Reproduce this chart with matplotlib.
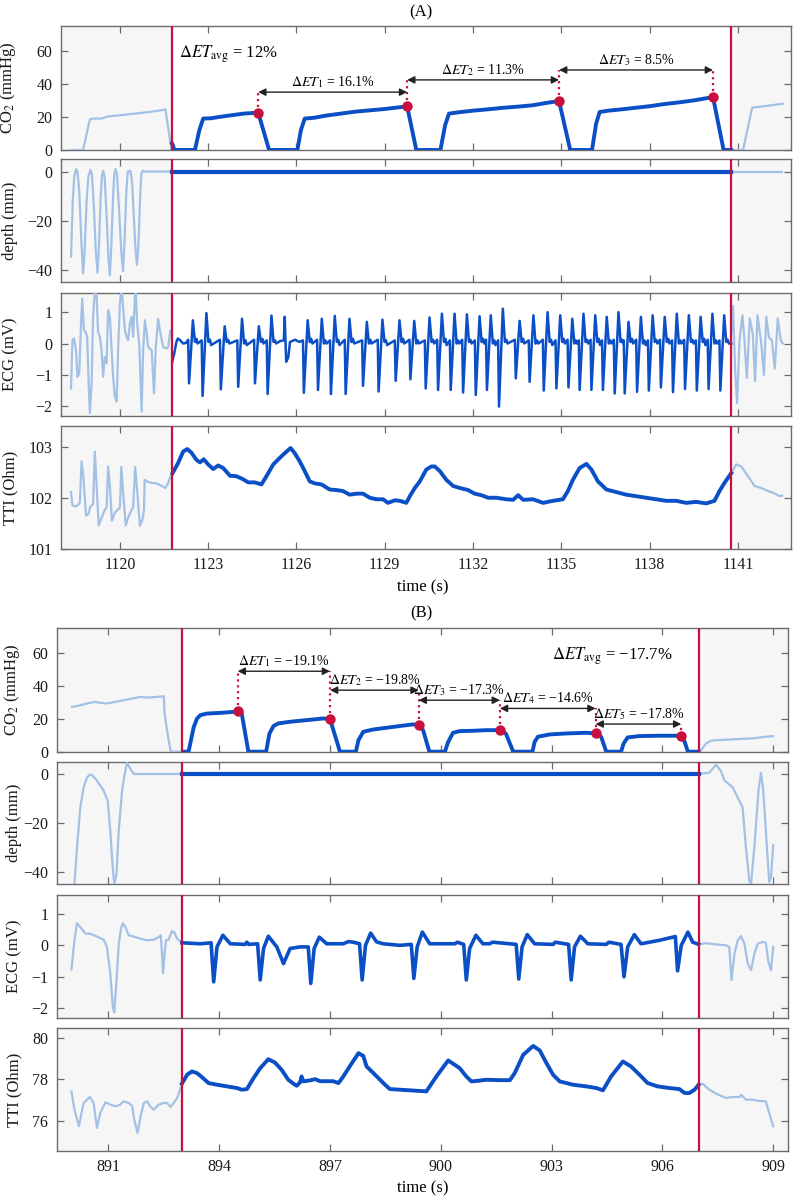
import matplotlib.pyplot as plt

plt.rcParams['font.family'] = ['Liberation Serif', 'DejaVu Serif']
plt.rcParams['mathtext.fontset'] = 'stix'

DARK = '#0b4fc6'
LIGHT = '#a3c1e5'
RED = '#c8103e'
SHADE = '#f6f6f6'
FRAME = '#6b6b6b'

# ------------------------------------------------------------------ panel A data
a_xlim = (1118.0, 1142.8)
a_lo, a_hi = 1121.77, 1140.77
a_xticks = [1120, 1123, 1126, 1129, 1132, 1135, 1138, 1141]

co2_a_pre_t = [1118.35, 1118.75, 1118.98, 1119.10, 1119.38, 1119.60, 1120.00, 1120.50, 1121.00, 1121.50, 1121.55, 1121.75]
co2_a_pre_v = [0, 0, 18.5, 19.0, 19.0, 20.3, 21.0, 22.0, 23.0, 24.3, 24.5, 0]
co2_a_t = [1121.77, 1121.80, 1121.85, 1122.55, 1122.70, 1122.83, 1123.10, 1123.30, 1123.70, 1124.20, 1124.70,
           1125.07, 1126.03, 1126.15, 1126.28, 1126.60, 1127.00, 1127.50, 1128.00, 1128.50, 1129.00, 1129.76,
           1130.07, 1130.89, 1131.05, 1131.18, 1131.50, 1132.00, 1132.50, 1133.00, 1133.50, 1134.00, 1134.50, 1134.92,
           1135.30, 1136.04, 1136.18, 1136.30, 1136.60, 1137.00, 1137.50, 1138.00, 1138.50, 1139.00, 1139.50, 1140.15,
           1140.51, 1140.77]
co2_a_v = [4, 3, 0, 0, 12, 19, 19.2, 19.8, 20.8, 22.0, 22.6,
           0, 0, 12, 19, 19.5, 20.8, 22.0, 23.2, 24.0, 24.8, 26.4,
           0, 0, 15, 22.0, 22.8, 23.8, 24.6, 25.5, 26.2, 27.0, 28.5, 29.6,
           0, 0, 16, 23.0, 23.8, 24.5, 25.5, 26.5, 27.8, 28.8, 30.0, 32.0,
           0, 0]
co2_a_post_t = [1140.77, 1141.17, 1141.48, 1141.80, 1142.20, 1142.52]
co2_a_post_v = [0, 0, 25.6, 26.3, 27.2, 28.0]
et_a_t = [1124.70, 1129.76, 1134.92, 1140.15]
et_a_v = [22.6, 26.4, 29.6, 32.0]
arrow_a_y = [35.0, 42.4, 48.4]
arrow_a_txt = ['16.1%', '11.3%', '8.5%']
avg_a_txt = '12%'

depth_a_pre_t = [1118.34, 1118.40, 1118.45, 1118.51, 1118.56, 1118.62, 1118.69, 1118.75, 1118.80, 1118.87, 1118.93,
                 1119.00, 1119.05, 1119.12, 1119.18, 1119.24, 1119.29, 1119.35, 1119.39, 1119.43, 1119.48, 1119.55,
                 1119.61, 1119.66, 1119.71, 1119.77, 1119.81, 1119.85, 1119.90, 1119.97, 1120.05, 1120.11, 1120.16,
                 1120.22, 1120.27, 1120.36, 1120.42, 1120.48, 1120.54, 1120.58, 1120.63, 1120.69, 1120.73, 1120.77,
                 1120.85, 1121.77]
depth_a_pre_v = [-34.6, -12, -2, 1.0, 0, -8, -28, -41.5, -33, -12, -2,
                 0.7, -1, -15, -32, -41.2, -30, -10, -2, 0.3, -2, -18,
                 -35, -42.2, -30, -10, -1, 1.0, -1, -15, -33, -40.6, -28,
                 -8, 0, 0.3, -5, -20, -33, -38, -30, -10, -1, 0.3,
                 0, 0]
depth_a_t = [1121.77, 1140.77]
depth_a_v = [0, 0]
depth_a_post_t = [1140.77, 1142.50]
depth_a_post_v = [0, 0]

ecg_a_pre_t = [1118.34, 1118.39, 1118.44, 1118.51, 1118.56, 1118.62, 1118.68, 1118.72, 1118.78, 1118.83,
               1118.89, 1118.94, 1118.98, 1119.04, 1119.09, 1119.15, 1119.21, 1119.26, 1119.32, 1119.38,
               1119.43, 1119.49, 1119.55, 1119.60, 1119.66, 1119.72, 1119.77, 1119.83, 1119.89, 1119.94,
               1120.00, 1120.06, 1120.11, 1120.17, 1120.23, 1120.28, 1120.34, 1120.40, 1120.45, 1120.51,
               1120.54, 1120.59, 1120.66, 1120.74, 1120.79, 1120.85, 1120.91, 1120.96, 1121.08, 1121.16,
               1121.22, 1121.30, 1121.36, 1121.47, 1121.59, 1121.64, 1121.72, 1121.77]
ecg_a_pre_v = [-1.43, 0.11, 0.16, -0.21, -1.06, -0.95, 0.63, 1.43, 0.42, 0.37,
               0.21, -1.27, -2.22, -1.27, 0.85, 1.69, 1.50, 0.37, 0.21, -0.21,
               -1.06, -0.42, -0.63, 1.06, 0.85, -0.21, -1.06, -1.69, -1.85, -0.21,
               1.27, 1.69, 1.16, 0.42, 0.21, 0.11, 0.63, 0.85, 0.21, 1.48,
               1.64, 0.63, -0.05, -2.17, -0.21, 0.74, 0.32, -0.11, -0.21, -1.59,
               -0.11, 0.79, 0.42, -0.11, -0.16, -0.11, 0.42, 0.27]
ecg_a_t = [
    1121.78, 1121.85, 1121.92, 1121.97, 1122.05, 1122.15, 1122.25,
    1122.32, 1122.35, 1122.48, 1122.55, 1122.60, 1122.64,
    1122.78, 1122.81, 1122.94, 1123.01, 1123.06, 1123.10,
    1123.40, 1123.43, 1123.56, 1123.63, 1123.68, 1123.72,
    1123.99, 1124.02, 1124.15, 1124.22, 1124.27, 1124.31,
    1124.56, 1124.59, 1124.72, 1124.79, 1124.84, 1124.88,
    1124.99, 1125.02, 1125.15, 1125.22, 1125.27, 1125.31,
    1125.45, 1125.57, 1125.60, 1125.65, 1125.72, 1125.78, 1125.95, 1126.10,
    1126.22, 1126.25, 1126.38, 1126.45, 1126.50, 1126.54,
    1126.70, 1126.73, 1126.86, 1126.93, 1126.98, 1127.02,
    1127.14, 1127.17, 1127.30, 1127.37, 1127.42, 1127.46,
    1127.64, 1127.67, 1127.80, 1127.87, 1127.92, 1127.96,
    1128.23, 1128.26, 1128.39, 1128.46, 1128.51, 1128.55,
    1128.76, 1128.79, 1128.92, 1128.99, 1129.04, 1129.08,
    1129.34, 1129.37, 1129.50, 1129.57, 1129.62, 1129.66,
    1129.84, 1129.87, 1130.00, 1130.07, 1130.12, 1130.16,
    1130.36, 1130.39, 1130.52, 1130.59, 1130.64, 1130.68,
    1130.78, 1130.81, 1130.94, 1131.01, 1131.06, 1131.10,
    1131.21, 1131.24, 1131.37, 1131.44, 1131.49, 1131.53,
    1131.63, 1131.66, 1131.79, 1131.86, 1131.91, 1131.95,
    1132.06, 1132.09, 1132.22, 1132.29, 1132.34, 1132.38,
    1132.44, 1132.47, 1132.60, 1132.67, 1132.72, 1132.76,
    1132.85, 1132.88, 1133.01, 1133.08, 1133.13, 1133.17,
    1133.42, 1133.45, 1133.58, 1133.65, 1133.70, 1133.74,
    1133.89, 1133.92, 1134.05, 1134.12, 1134.17, 1134.21,
    1134.37, 1134.40, 1134.53, 1134.60, 1134.65, 1134.69,
    1134.80, 1134.83, 1134.96, 1135.03, 1135.08, 1135.12,
    1135.21, 1135.24, 1135.37, 1135.44, 1135.49, 1135.53,
    1135.59, 1135.62, 1135.75, 1135.82, 1135.87, 1135.91,
    1135.99, 1136.02, 1136.15, 1136.22, 1136.27, 1136.31,
    1136.38, 1136.41, 1136.54, 1136.61, 1136.66, 1136.70,
    1136.78, 1136.81, 1136.94, 1137.01, 1137.06, 1137.10,
    1137.12, 1137.15, 1137.28, 1137.35, 1137.40, 1137.44,
    1137.54, 1137.57, 1137.70, 1137.77, 1137.82, 1137.86,
    1137.94, 1137.97, 1138.10, 1138.17, 1138.22, 1138.26,
    1138.35, 1138.38, 1138.51, 1138.58, 1138.63, 1138.67,
    1138.76, 1138.79, 1138.92, 1138.99, 1139.04, 1139.08,
    1139.17, 1139.20, 1139.33, 1139.40, 1139.45, 1139.49,
    1139.57, 1139.60, 1139.73, 1139.80, 1139.85, 1139.89,
    1139.97, 1140.00, 1140.13, 1140.20, 1140.25, 1140.29,
    1140.37, 1140.40, 1140.53, 1140.60, 1140.65, 1140.69,
    1140.77]
ecg_a_v = [
    -0.58, -0.30, 0.05, 0.16, 0.10, 0.00, 0.02,
    0.12, -1.27, 0.74, 0.05, 0.15, 0.00,
    0.10, -1.67, 0.97, 0.05, 0.12, -0.05,
    0.12, -1.46, 0.55, 0.05, 0.12, 0.00,
    0.10, -1.38, 0.79, 0.00, 0.10, -0.05,
    0.12, -1.27, 0.55, 0.05, 0.15, 0.00,
    0.10, -1.61, 0.89, 0.05, 0.10, 0.00,
    0.08, 0.10, 0.85, -0.58, -0.45, 0.05, 0.12, 0.05,
    0.10, -1.57, 0.74, 0.05, 0.15, 0.00,
    0.12, -1.48, 0.79, 0.00, 0.10, 0.00,
    0.10, -1.61, 0.88, 0.05, 0.12, -0.05,
    0.12, -1.61, 0.79, 0.05, 0.15, 0.00,
    0.10, -1.35, 0.69, 0.00, 0.12, 0.00,
    0.12, -1.53, 0.76, 0.05, 0.10, -0.05,
    0.10, -1.19, 0.74, 0.05, 0.15, 0.00,
    0.12, -1.14, 0.72, 0.00, 0.10, 0.00,
    0.10, -1.43, 0.83, 0.05, 0.12, 0.00,
    0.12, -1.48, 0.95, 0.05, 0.15, -0.05,
    0.10, -1.48, 0.95, 0.00, 0.10, 0.00,
    0.12, -1.56, 0.93, 0.05, 0.12, 0.00,
    0.10, -1.64, 0.87, 0.05, 0.15, 0.00,
    0.12, -1.48, 0.90, 0.00, 0.10, -0.05,
    0.10, -2.01, 1.11, 0.05, 0.12, 0.00,
    0.12, -1.11, 0.72, 0.05, 0.15, 0.00,
    0.10, -1.22, 0.90, 0.00, 0.10, 0.00,
    0.12, -1.50, 1.00, 0.05, 0.12, -0.05,
    0.10, -1.43, 0.90, 0.05, 0.15, 0.00,
    0.12, -1.40, 0.79, 0.00, 0.10, 0.00,
    0.10, -1.48, 0.95, 0.05, 0.12, 0.00,
    0.12, -1.48, 0.90, 0.05, 0.15, -0.05,
    0.10, -1.48, 0.85, 0.00, 0.10, 0.00,
    0.12, -1.59, 1.00, 0.05, 0.12, 0.00,
    0.10, -1.59, 0.69, 0.05, 0.15, 0.00,
    0.12, -1.54, 0.85, 0.00, 0.10, -0.05,
    0.10, -1.50, 0.90, 0.05, 0.12, 0.00,
    0.12, -1.40, 0.85, 0.05, 0.15, 0.00,
    0.10, -1.55, 0.95, 0.00, 0.10, 0.00,
    0.12, -1.45, 0.90, 0.05, 0.12, 0.00,
    0.10, -1.50, 0.85, 0.05, 0.15, -0.05,
    0.12, -1.45, 0.95, 0.00, 0.10, 0.00,
    0.10, -1.50, 0.90, 0.05, 0.12, 0.00,
    0.00]
ecg_a_post_t = [1140.77, 1140.83, 1140.90, 1140.97, 1141.05, 1141.15, 1141.22, 1141.30, 1141.40, 1141.50, 1141.58,
                1141.66, 1141.78, 1141.88, 1141.96, 1142.05, 1142.15, 1142.25, 1142.35, 1142.45, 1142.52]
ecg_a_post_v = [0.3, 1.2, -0.8, -1.9, 0.1, 0.9, 0.1, -1.1, 0.8, 0.3, -1.2,
                0.9, 0.1, -1.0, 0.85, 0.2, 0.1, -0.8, 0.8, 0.1, 0.0]

tti_a_pre_t = [1118.34, 1118.39, 1118.51, 1118.59, 1118.64, 1118.70, 1118.76, 1118.85, 1118.93, 1119.00,
               1119.09, 1119.15, 1119.21, 1119.28, 1119.38, 1119.49, 1119.55, 1119.60, 1119.66, 1119.73,
               1119.83, 1119.94, 1120.00, 1120.05, 1120.11, 1120.20, 1120.28, 1120.40, 1120.45, 1120.52,
               1120.59, 1120.68, 1120.77, 1120.82, 1120.84, 1120.91, 1121.08, 1121.25, 1121.42, 1121.55,
               1121.64, 1121.77]
tti_a_pre_v = [102.11, 101.85, 101.83, 101.87, 101.90, 102.71, 102.42, 101.65, 101.68, 101.83,
               101.87, 102.90, 102.23, 101.46, 101.61, 101.77, 101.81, 102.61, 102.23, 101.55,
               101.71, 101.77, 101.81, 102.60, 102.10, 101.46, 101.61, 101.77, 101.81, 102.60,
               102.13, 101.45, 101.58, 101.77, 102.35, 102.32, 102.29, 102.28, 102.23, 102.19,
               102.29, 102.48]
tti_a_t = [1121.79, 1121.98, 1122.15, 1122.29, 1122.43, 1122.60, 1122.72, 1122.85, 1123.00, 1123.17,
           1123.34, 1123.51, 1123.74, 1123.96, 1124.19, 1124.36, 1124.58, 1124.81, 1124.98, 1125.21,
           1125.49, 1125.66, 1125.80, 1125.94, 1126.11, 1126.28, 1126.45, 1126.62, 1126.85, 1127.13,
           1127.36, 1127.58, 1127.81, 1128.04, 1128.26, 1128.49, 1128.72, 1128.94, 1129.11, 1129.34,
           1129.51, 1129.73, 1129.85, 1130.02, 1130.19, 1130.41, 1130.58, 1130.70, 1130.87, 1131.09,
           1131.32, 1131.55, 1131.83, 1132.05, 1132.28, 1132.51, 1132.79, 1133.13, 1133.36, 1133.53,
           1133.70, 1134.04, 1134.38, 1134.71, 1135.05, 1135.22, 1135.39, 1135.62, 1135.85, 1136.02,
           1136.24, 1136.53, 1136.87, 1137.20, 1137.54, 1137.88, 1138.22, 1138.56, 1138.90, 1139.24,
           1139.58, 1139.92, 1140.20, 1140.37, 1140.54, 1140.77]
tti_a_v = [102.48, 102.68, 102.90, 102.95, 102.88, 102.74, 102.69, 102.75, 102.65, 102.56,
           102.63, 102.58, 102.43, 102.42, 102.36, 102.30, 102.30, 102.26, 102.42, 102.65,
           102.81, 102.90, 102.97, 102.87, 102.71, 102.52, 102.32, 102.28, 102.26, 102.16,
           102.15, 102.13, 102.06, 102.08, 102.08, 102.00, 101.97, 101.97, 101.90, 101.95,
           101.94, 101.90, 102.03, 102.19, 102.32, 102.55, 102.61, 102.61, 102.52, 102.35,
           102.23, 102.19, 102.15, 102.08, 102.05, 102.00, 102.00, 101.97, 101.96, 102.05,
           101.96, 101.97, 101.90, 101.94, 101.97, 102.13, 102.35, 102.58, 102.66, 102.55,
           102.32, 102.16, 102.11, 102.06, 102.03, 102.00, 101.97, 101.94, 101.94, 101.90,
           101.92, 101.89, 101.94, 102.13, 102.29, 102.48]
tti_a_post_t = [1140.77, 1140.94, 1141.11, 1141.34, 1141.56, 1141.79, 1142.02, 1142.19, 1142.41, 1142.50]
tti_a_post_v = [102.48, 102.65, 102.61, 102.42, 102.23, 102.19, 102.13, 102.10, 102.03, 102.04]

# ------------------------------------------------------------------ panel B data
b_xlim = (889.6, 909.4)
b_lo, b_hi = 893.0, 907.0
b_xticks = [891, 894, 897, 900, 903, 906, 909]

co2_b_pre_t = [890.02, 890.15, 890.42, 890.65, 890.78, 890.96, 891.19, 891.51, 891.87, 892.05, 892.32, 892.50,
               892.52, 892.63, 892.69, 892.99]
co2_b_pre_v = [27.3, 27.7, 29.3, 30.3, 29.7, 29.3, 30.3, 31.7, 33.3, 32.9, 33.3, 33.7, 23.2, 7.0, 0, 0]
co2_b_t = [893.02, 893.17, 893.31, 893.40, 893.49, 893.67, 894.03, 894.39, 894.50, 894.61, 894.79,
           895.27, 895.36, 895.47, 895.60, 895.92, 896.37, 896.82, 897.00, 897.27,
           897.70, 897.77, 897.90, 898.17, 898.89, 899.25, 899.40, 899.52, 899.69,
           900.11, 900.20, 900.33, 900.51, 900.87, 901.23, 901.60, 901.76, 901.96,
           902.48, 902.54, 902.63, 902.95, 903.40, 903.94, 904.19, 904.34, 904.48,
           904.88, 904.95, 905.06, 905.38, 905.92, 906.46, 906.51, 906.60, 906.69, 906.98]
co2_b_v = [0, 0, 15.0, 20.2, 22.2, 23.2, 23.6, 24.2, 24.6, 23.2, 0,
           0, 11.0, 15.6, 17.2, 18.2, 19.2, 20.2, 19.8, 0,
           0, 7.0, 12.1, 13.5, 15.6, 16.6, 16.0, 13.1, 0,
           0, 6.0, 11.5, 12.5, 12.7, 13.1, 13.1, 11.1, 0,
           0, 6.0, 9.1, 10.5, 11.1, 11.5, 11.1, 9.1, 0,
           0, 5.0, 8.7, 9.5, 9.7, 9.7, 9.5, 6.1, 0, 0]
co2_b_post_t = [906.98, 907.05, 907.18, 907.32, 907.54, 907.90, 908.44, 908.80, 909.00]
co2_b_post_v = [0, 1.0, 5.0, 6.7, 7.1, 7.5, 8.1, 9.1, 9.5]
et_b_t = [894.50, 897.00, 899.40, 901.60, 904.19, 906.51]
et_b_v = [24.6, 19.8, 16.0, 13.1, 11.1, 9.5]
arrow_b_y = [48.9, 37.4, 31.3, 26.3, 16.8]
arrow_b_txt = ['\u221219.1%', '\u221219.8%', '\u221217.3%', '\u221214.6%', '\u221217.8%']
avg_b_txt = '\u221217.7%'

depth_b_pre_t = [890.00, 890.08, 890.15, 890.24, 890.33, 890.42, 890.49, 890.56, 890.62, 890.69, 890.87, 890.98,
                 891.05, 891.12, 891.16, 891.22, 891.28, 891.37, 891.43, 891.50, 891.60, 891.69, 892.99]
depth_b_pre_v = [-52, -45, -29.8, -13.6, -5.4, -1.5, -0.3, -0.5, -1.5, -2.7, -6.8, -10.9,
                 -23, -39, -45, -40.6, -23, -6.8, -1, 4.5, 2, 0, 0]
depth_b_t = [893.0, 907.0]
depth_b_v = [0, 0]
depth_b_post_t = [906.98, 907.27, 907.45, 907.59, 907.68, 907.90, 908.08, 908.17, 908.26, 908.35, 908.40, 908.49,
                  908.60, 908.67, 908.73, 908.80, 908.89, 908.94, 909.00]
depth_b_post_v = [0, 0.5, 3.8, 1.0, -2.7, -5.4, -10.9, -13.6, -29.8, -43.4, -44.8, -29.8,
                  -6.8, 0.5, -6.8, -23, -44, -42, -29]

ecg_b_pre_t = [890.00, 890.08, 890.15, 890.24, 890.38, 890.51, 890.69, 890.87, 890.96, 891.05,
               891.12, 891.16, 891.22, 891.28, 891.34, 891.39, 891.46, 891.55, 891.69, 891.87,
               892.05, 892.23, 892.36, 892.42, 892.45, 892.48, 892.52, 892.56, 892.63, 892.72,
               892.78, 892.86, 892.99]
ecg_b_pre_v = [-0.77, 0.16, 0.70, 0.58, 0.37, 0.37, 0.28, 0.18, -0.05, -0.89,
               -1.95, -2.13, -1.10, 0.05, 0.53, 0.70, 0.58, 0.32, 0.28, 0.21,
               0.16, 0.18, 0.26, 0.32, -0.26, -0.89, -0.26, 0.16, 0.18, 0.45,
               0.42, 0.21, 0.08]
ecg_b_t = [892.99, 893.49, 893.78, 893.85, 893.94, 894.10, 894.30, 894.70, 894.75, 894.80,
           895.04, 895.11, 895.20, 895.33, 895.56, 895.74, 895.92, 896.19, 896.41, 896.48,
           896.57, 896.71, 896.91, 897.36, 897.50, 897.63, 897.80, 897.87, 897.96, 898.10,
           898.26, 898.44, 898.89, 899.20, 899.27, 899.36, 899.50, 899.70, 900.38, 900.45,
           900.62, 900.69, 900.78, 900.95, 901.14, 901.32, 901.40, 902.04, 902.11, 902.20,
           902.34, 902.54, 903.04, 903.10, 903.46, 903.53, 903.62, 903.78, 903.98, 904.48,
           904.55, 904.88, 904.96, 905.06, 905.24, 905.42, 905.92, 906.28, 906.35, 906.41,
           906.51, 906.69, 906.82, 906.98]
ecg_b_v = [0.08, 0.05, 0.08, -1.16, -0.05, 0.32, 0.05, 0.03, 0.10, 0.03,
           0.05, -1.10, -0.10, 0.29, -0.05, -0.58, -0.10, -0.05, -0.05, -1.21,
           -0.10, 0.26, 0.05, 0.05, 0.12, 0.10, 0.05, -1.10, 0.00, 0.39,
           0.11, 0.05, 0.00, 0.03, -1.05, -0.05, 0.42, 0.05, 0.05, 0.10,
           0.03, -1.10, -0.10, 0.32, 0.05, 0.05, 0.10, 0.03, -1.07, -0.05,
           0.34, 0.05, 0.03, 0.10, 0.03, -1.10, -0.05, 0.29, 0.05, 0.03,
           0.10, 0.03, -1.00, -0.05, 0.34, 0.05, 0.16, 0.26, 0.28, -0.81,
           0.00, 0.42, 0.10, 0.03]
ecg_b_post_t = [906.98, 907.18, 907.45, 907.72, 907.81, 907.87, 907.95, 908.04, 908.13, 908.22,
                908.31, 908.40, 908.49, 908.58, 908.71, 908.80, 908.87, 908.94, 909.00]
ecg_b_post_v = [0.03, 0.07, 0.03, 0.00, -0.05, -1.10, -0.26, 0.16, 0.29, 0.05,
                -0.58, -0.79, -0.26, 0.05, 0.11, 0.08, -0.53, -0.79, -0.05]

tti_b_pre_t = [890.00, 890.08, 890.20, 890.29, 890.33, 890.50, 890.60, 890.69, 890.78, 890.92,
               891.05, 891.19, 891.32, 891.41, 891.55, 891.64, 891.70, 891.79, 891.87, 891.96,
               892.05, 892.14, 892.23, 892.36, 892.50, 892.59, 892.68, 892.77, 892.86, 892.99]
tti_b_pre_v = [77.41, 76.53, 75.73, 76.53, 76.85, 77.14, 76.85, 75.65, 76.37, 76.88,
               76.77, 76.69, 76.77, 76.93, 76.85, 76.72, 76.05, 75.41, 76.21, 76.85,
               76.93, 76.66, 76.53, 76.77, 76.85, 76.85, 76.66, 76.85, 77.09, 77.73]
tti_b_t = [892.99, 893.13, 893.26, 893.40, 893.53, 893.71, 893.94, 894.21, 894.48, 894.61,
           894.75, 894.93, 895.11, 895.33, 895.51, 895.69, 895.87, 896.01, 896.10, 896.19,
           896.23, 896.28, 896.46, 896.60, 896.73, 896.91, 897.09, 897.23, 897.36, 897.59,
           897.77, 897.90, 897.99, 898.13, 898.31, 898.49, 898.62, 898.89, 899.16, 899.61,
           899.88, 900.20, 900.51, 900.69, 900.83, 901.01, 901.23, 901.60, 901.87, 902.00,
           902.23, 902.50, 902.68, 902.86, 903.04, 903.22, 903.58, 903.94, 904.21, 904.39,
           904.61, 904.93, 905.15, 905.38, 905.60, 905.87, 906.19, 906.46, 906.60, 906.73,
           906.87, 906.98]
tti_b_v = [77.78, 78.21, 78.37, 78.29, 78.10, 77.81, 77.73, 77.65, 77.57, 77.49,
           77.52, 78.05, 78.53, 78.96, 78.80, 78.45, 77.97, 77.78, 77.68, 77.85,
           78.13, 77.89, 77.94, 78.00, 77.90, 77.90, 77.90, 77.81, 78.13, 78.77,
           79.25, 79.12, 78.61, 78.37, 78.05, 77.73, 77.52, 77.49, 77.46, 77.41,
           78.13, 78.90, 78.53, 78.13, 77.89, 77.92, 77.97, 77.95, 77.95, 78.29,
           79.17, 79.60, 79.38, 78.77, 78.21, 77.89, 77.73, 77.65, 77.57, 77.46,
           78.13, 78.85, 78.61, 78.21, 77.81, 77.65, 77.57, 77.52, 77.33, 77.33,
           77.49, 77.73]
tti_b_post_t = [906.98, 907.09, 907.27, 907.45, 907.72, 907.90, 908.09, 908.13, 908.26, 908.44, 908.58,
                908.80, 908.89, 909.00]
tti_b_post_v = [77.73, 77.78, 77.49, 77.30, 77.09, 77.14, 77.14, 77.25, 77.01, 77.01, 76.96,
                76.93, 76.37, 75.73]

# ------------------------------------------------------------------ drawing
W, H = 796, 1199
fig = plt.figure(figsize=(W / 100, H / 100), dpi=100)


def px_axes(left, top, right, bottom):
    return fig.add_axes([left / W, 1 - bottom / H, (right - left) / W, (bottom - top) / H])


def style(ax, xlim, ylim, xticks, yticks, ylabel, lo, hi, lab_x, show_x):
    ax.set_xlim(xlim)
    ax.set_ylim(ylim)
    ax.axvspan(xlim[0], lo, color=SHADE, lw=0, zorder=0)
    ax.axvspan(hi, xlim[1], color=SHADE, lw=0, zorder=0)
    ax.axvline(lo, color=RED, lw=1.6, zorder=5)
    ax.axvline(hi, color=RED, lw=1.6, zorder=5)
    ax.set_xticks(xticks)
    ax.set_yticks(yticks)
    ax.tick_params(direction='in', length=5, width=0.9, color=FRAME, top=True, right=True,
                   labelsize=11.5, labelcolor='#1a1a1a', pad=6)
    ax.tick_params(labelbottom=show_x)
    for s in ax.spines.values():
        s.set_color(FRAME)
        s.set_linewidth(1.0)
    ax.set_ylabel(ylabel, fontsize=12, color='#1a1a1a')
    ax.yaxis.set_label_coords(lab_x, 0.5)


def traces(ax, pre, main, post, lw_main=2.5):
    ax.plot(pre[0], pre[1], color=LIGHT, lw=1.6, zorder=3)
    ax.plot(post[0], post[1], color=LIGHT, lw=1.6, zorder=3)
    ax.plot(main[0], main[1], color=DARK, lw=lw_main, zorder=4, solid_joinstyle='round')


def end_tidal(ax, et_t, et_v, arr_y, arr_txt, avg_txt, avg_xy):
    for i in range(len(arr_y)):
        x1, x2, y = et_t[i], et_t[i + 1], arr_y[i]
        ax.annotate('', xy=(x2, y), xytext=(x1, y),
                    arrowprops=dict(arrowstyle='<|-|>', color='#222222', lw=1.0,
                                    mutation_scale=11, shrinkA=0, shrinkB=0), zorder=6)
        ax.text((x1 + x2) / 2, y + 1.2, r'$\Delta ET_{%d}$ = %s' % (i + 1, arr_txt[i]),
                ha='center', va='bottom', fontsize=10, zorder=7)
    tops = [arr_y[0]] + [max(arr_y[i - 1], arr_y[i]) if i < len(arr_y) else arr_y[-1] for i in range(1, len(et_t))]
    for i in range(len(et_t)):
        ax.plot([et_t[i], et_t[i]], [et_v[i], tops[i]], color=RED, ls=':', lw=1.6, zorder=5)
    ax.plot(et_t, et_v, 'o', color=RED, ms=7.5, zorder=8, mec='none')
    ax.text(avg_xy[0], avg_xy[1], r'$\Delta ET_{\rm avg}$ = ' + avg_txt, ha='left', va='center',
            fontsize=12, zorder=7)


# panel A
a_rows = [(26, 150), (159.3, 282), (293.3, 415.7), (426, 549)]
axA = [px_axes(61, t, 791, b) for t, b in a_rows]
style(axA[0], a_xlim, (0, 75), a_xticks, [0, 20, 40, 60], r'CO$_2$ (mmHg)', a_lo, a_hi, -0.059, False)
style(axA[1], a_xlim, (-45, 5), a_xticks, [-40, -20, 0], 'depth (mm)', a_lo, a_hi, -0.059, False)
style(axA[2], a_xlim, (-2.3, 1.6), a_xticks, [-2, -1, 0, 1], 'ECG (mV)', a_lo, a_hi, -0.059, False)
style(axA[3], a_xlim, (101, 103.4), a_xticks, [101, 102, 103], 'TTI (Ohm)', a_lo, a_hi, -0.059, True)
traces(axA[0], (co2_a_pre_t, co2_a_pre_v), (co2_a_t, co2_a_v), (co2_a_post_t, co2_a_post_v), 2.8)
traces(axA[1], (depth_a_pre_t, depth_a_pre_v), (depth_a_t, depth_a_v), (depth_a_post_t, depth_a_post_v), 3.0)
traces(axA[2], (ecg_a_pre_t, ecg_a_pre_v), (ecg_a_t, ecg_a_v), (ecg_a_post_t, ecg_a_post_v), 1.8)
traces(axA[3], (tti_a_pre_t, tti_a_pre_v), (tti_a_t, tti_a_v), (tti_a_post_t, tti_a_post_v), 2.8)
end_tidal(axA[0], et_a_t, et_a_v, arrow_a_y, arrow_a_txt, avg_a_txt, (1122.0, 58))

# panel B
b_rows = [(628.3, 751.7), (761.7, 884.3), (895, 1017.7), (1028.3, 1150.7)]
axB = [px_axes(56.7, t, 788, b) for t, b in b_rows]
style(axB[0], b_xlim, (0, 75), b_xticks, [0, 20, 40, 60], r'CO$_2$ (mmHg)', b_lo, b_hi, -0.047, False)
style(axB[1], b_xlim, (-45, 5), b_xticks, [-40, -20, 0], 'depth (mm)', b_lo, b_hi, -0.047, False)
style(axB[2], b_xlim, (-2.3, 1.6), b_xticks, [-2, -1, 0, 1], 'ECG (mV)', b_lo, b_hi, -0.047, False)
style(axB[3], b_xlim, (74.55, 80.45), b_xticks, [76, 78, 80], 'TTI (Ohm)', b_lo, b_hi, -0.047, True)
traces(axB[0], (co2_b_pre_t, co2_b_pre_v), (co2_b_t, co2_b_v), (co2_b_post_t, co2_b_post_v), 2.8)
traces(axB[1], (depth_b_pre_t, depth_b_pre_v), (depth_b_t, depth_b_v), (depth_b_post_t, depth_b_post_v), 3.0)
traces(axB[2], (ecg_b_pre_t, ecg_b_pre_v), (ecg_b_t, ecg_b_v), (ecg_b_post_t, ecg_b_post_v), 2.6)
traces(axB[3], (tti_b_pre_t, tti_b_pre_v), (tti_b_t, tti_b_v), (tti_b_post_t, tti_b_post_v), 2.8)
end_tidal(axB[0], et_b_t, et_b_v, arrow_b_y, arrow_b_txt, avg_b_txt, (903.0, 58))

fig.text(421 / W, 1 - 12 / H, '(A)', ha='center', va='center', fontsize=12)
fig.text(421 / W, 1 - 613 / H, '(B)', ha='center', va='center', fontsize=12)
fig.text(423 / W, 1 - 587 / H, 'time (s)', ha='center', va='center', fontsize=12)
fig.text(423 / W, 1 - 1188 / H, 'time (s)', ha='center', va='center', fontsize=12)

fig.savefig('out.png', dpi=100)
